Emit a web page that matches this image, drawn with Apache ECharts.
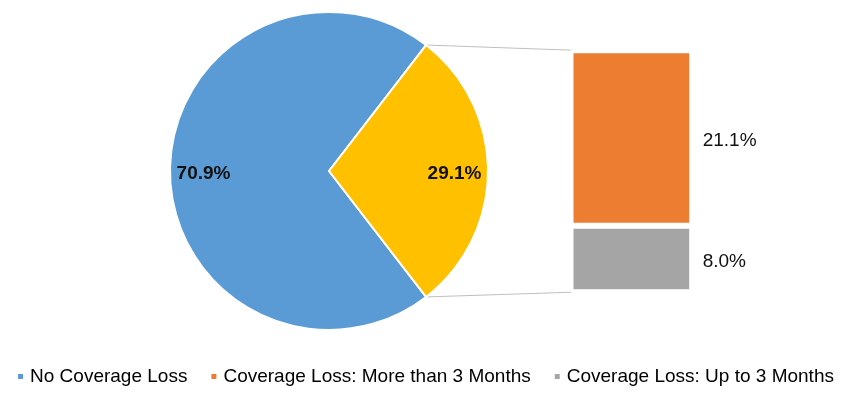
<!DOCTYPE html>
<html>
<head>
<meta charset="utf-8">
<script src="https://cdn.jsdelivr.net/npm/echarts@6/dist/echarts.min.js"></script>
<style>
  html, body { margin: 0; padding: 0; background: #fff; }
  #chart { width: 850px; height: 397px; }
</style>
</head>
<body>
<div id="chart"></div>
<script>
// pie: share of people with / without coverage loss
const pieNames = ['No Coverage Loss', 'Coverage Loss'];
const pieValues = [70.9, 29.1];
// bar: breakdown of the coverage loss slice (bottom to top)
const barNames = ['Coverage Loss: Up to 3 Months', 'Coverage Loss: More than 3 Months'];
const barValues = [8.0, 21.1];
const legendNames = ['No Coverage Loss', 'Coverage Loss: More than 3 Months', 'Coverage Loss: Up to 3 Months'];

const pieColors = ['#5B9BD5', '#FFC000'];
const barColors = ['#A5A5A5', '#ED7D31'];
const FONT = 'Liberation Sans, Arial, sans-serif';

// layout
const cx = 329, cy = 171, r = 159;
const gridLeft = 570.5, gridTop = 50.2, gridW = 121.7, gridH = 242;

const total = pieValues.reduce((a, b) => a + b, 0);
const halfAngle = pieValues[1] / total * 180; // half of the exploded slice, degrees
const barMax = barValues.reduce((a, b) => a + b, 0);

const pct = p => p.value.toFixed(1) + '%';

// connector lines from the slice edge to the bar
const rad = halfAngle * Math.PI / 180;
const px = cx + r * Math.cos(rad);
const pyTop = cy - r * Math.sin(rad);
const pyBot = cy + r * Math.sin(rad);
const lineStyle = { stroke: '#BFBFBF', lineWidth: 1 };

const chart = echarts.init(document.getElementById('chart'));
chart.setOption({
  animation: false,
  textStyle: { fontFamily: FONT },
  legend: {
    data: legendNames,
    left: 'center',
    top: 362,
    icon: 'rect',
    itemWidth: 7,
    itemHeight: 7,
    itemGap: 22,
    textStyle: { fontSize: 19, color: '#000', fontFamily: FONT, padding: [0, 0, 0, 1] }
  },
  grid: { left: gridLeft, top: gridTop, width: gridW, height: gridH },
  xAxis: { type: 'category', data: ['Coverage Loss'], show: false },
  yAxis: { type: 'value', min: 0, max: barMax, show: false },
  graphic: [
    { type: 'line', silent: true, shape: { x1: px, y1: pyTop, x2: gridLeft + 1.5, y2: gridTop }, style: lineStyle },
    { type: 'line', silent: true, shape: { x1: px, y1: pyBot, x2: gridLeft + 1.5, y2: gridTop + gridH }, style: lineStyle }
  ],
  series: [
    {
      type: 'pie',
      center: [cx, cy],
      radius: [0, r],
      startAngle: -halfAngle,
      clockwise: true,
      silent: true,
      label: { show: false },
      labelLine: { show: false },
      itemStyle: { borderColor: '#fff', borderWidth: 2 },
      data: pieNames.map((n, i) => ({ name: n, value: pieValues[i], itemStyle: { color: pieColors[i] } }))
    },
    {
      // label carrier, places the percentages further out than the default
      type: 'pie',
      center: [cx, cy],
      radius: [86, r],
      startAngle: -halfAngle,
      clockwise: true,
      silent: true,
      itemStyle: { color: 'transparent' },
      labelLine: { show: false },
      label: {
        show: true, position: 'inside', formatter: pct, offset: [0, 3],
        fontSize: 19, fontWeight: 'bold', color: '#111', fontFamily: FONT
      },
      data: pieNames.map((n, i) => ({ name: 'lbl ' + n, value: pieValues[i] }))
    },
    ...barNames.map((n, i) => ({
      name: n,
      type: 'bar',
      stack: 'loss',
      barWidth: '100%',
      data: [barValues[i]],
      itemStyle: { color: barColors[i], borderColor: '#fff', borderWidth: 3 },
      label: {
        show: true, position: 'right', distance: 10.5, formatter: pct, offset: [0, 3],
        fontSize: 19, color: '#111', fontFamily: FONT
      }
    }))
  ]
});
</script>
</body>
</html>
